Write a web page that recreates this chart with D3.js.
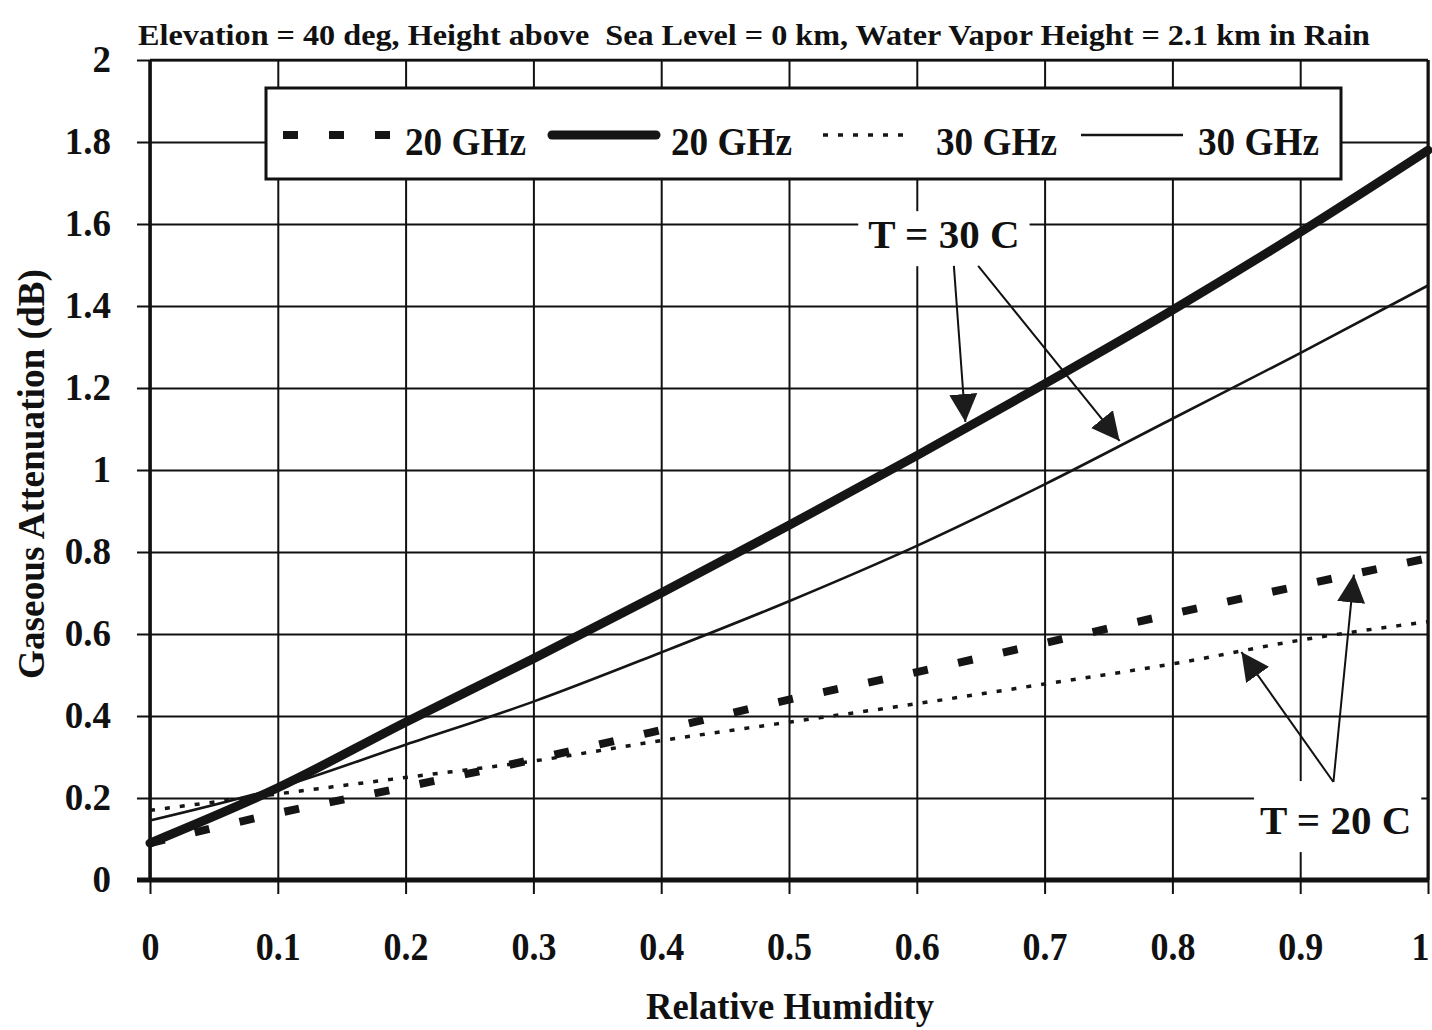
<!DOCTYPE html>
<html>
<head>
<meta charset="utf-8">
<script src="https://cdn.jsdelivr.net/npm/d3@7"></script>
<style>
  html, body { margin: 0; padding: 0; background: #fff; }
  text { font-family: "Liberation Serif", "Times New Roman", serif; font-weight: bold; fill: #111; }
</style>
</head>
<body>
<div id="chart"></div>
<script>
// values
const humidity = [0, 0.1, 0.2, 0.3, 0.4, 0.5, 0.6, 0.7, 0.8, 0.9, 1.0];
const att20GHzT30 = [0.09, 0.225, 0.385, 0.54, 0.70, 0.865, 1.035, 1.21, 1.39, 1.58, 1.78];
const att30GHzT30 = [0.145, 0.225, 0.33, 0.435, 0.555, 0.68, 0.815, 0.965, 1.125, 1.285, 1.45];
const att20GHzT20 = [0.09, 0.163, 0.227, 0.294, 0.366, 0.44, 0.507, 0.578, 0.649, 0.718, 0.785];
const att30GHzT20 = [0.17, 0.21, 0.25, 0.29, 0.34, 0.385, 0.43, 0.478, 0.527, 0.585, 0.63];

const xTicks = [0, 0.1, 0.2, 0.3, 0.4, 0.5, 0.6, 0.7, 0.8, 0.9, 1];
const xTickLabels = ['0', '0.1', '0.2', '0.3', '0.4', '0.5', '0.6', '0.7', '0.8', '0.9', '1'];
const yTicks = [0, 0.2, 0.4, 0.6, 0.8, 1, 1.2, 1.4, 1.6, 1.8, 2];
const yTickLabels = ['0', '0.2', '0.4', '0.6', '0.8', '1', '1.2', '1.4', '1.6', '1.8', '2'];

const legendLabels = ['20 GHz', '20 GHz', '30 GHz', '30 GHz'];
const title = 'Elevation = 40 deg, Height above  Sea Level = 0 km, Water Vapor Height = 2.1 km in Rain';

// annotation anchors, in data units
const note30 = { text: 'T = 30 C', u: 0.562, v: 1.541 };
const arrows30 = [[[0.629, 1.498], [0.638, 1.117]], [[0.648, 1.498], [0.7587, 1.071]]];
const note20 = { text: 'T = 20 C', u: 0.8685, v: 0.112 };
const arrows20 = [[[0.926, 0.239], [0.854, 0.556]], [[0.926, 0.239], [0.942, 0.745]]];

const width = 1432, height = 1030;
const margin = { top: 60, right: 4, bottom: 150, left: 150 };
const x0 = margin.left, x1 = width - margin.right;
const yTop = margin.top, yBot = height - margin.bottom;

const svg = d3.select('#chart').append('svg')
  .attr('width', width).attr('height', height);
svg.append('rect').attr('width', width).attr('height', height).attr('fill', '#fff');

const x = d3.scaleLinear().domain([0, 1]).range([x0, x1]);
const y = d3.scaleLinear().domain([0, 2]).range([yBot, yTop]);

// gridlines + tick labels
const yAxis = d3.axisLeft(y)
  .tickValues(yTicks)
  .tickFormat((d, i) => yTickLabels[i])
  .tickSizeInner(-(x1 - x0 + 13))
  .tickSizeOuter(0)
  .tickPadding(26);

const gy = svg.append('g').attr('transform', `translate(${x0 - 13},0)`).call(yAxis);
gy.select('.domain').remove();
gy.selectAll('line').attr('stroke', '#111').attr('stroke-width', 2);
gy.selectAll('text').attr('font-size', 37).attr('fill', '#111');

const xAxis = d3.axisBottom(x)
  .tickValues(xTicks)
  .tickFormat((d, i) => xTickLabels[i])
  .tickSizeInner(-(yBot + 14 - yTop))
  .tickSizeOuter(0)
  .tickPadding(38);

const gx = svg.append('g').attr('transform', `translate(0,${yBot + 14})`).call(xAxis);
gx.select('.domain').remove();
gx.selectAll('line').attr('stroke', '#111').attr('stroke-width', 2);
gx.selectAll('text')
  .attr('font-size', 40)
  .attr('fill', '#111')
  .attr('transform', (d, i) => (i === xTicks.length - 1 ? 'translate(-8,0) ' : '') + 'scale(0.9,1)');

// plot frame
const frame = svg.append('g').attr('stroke', '#111');
frame.append('line').attr('x1', x0).attr('x2', x1).attr('y1', yTop).attr('y2', yTop).attr('stroke-width', 2.5);
frame.append('line').attr('x1', x0).attr('x2', x0).attr('y1', yTop).attr('y2', yBot).attr('stroke-width', 3.5);
frame.append('line').attr('x1', x1).attr('x2', x1).attr('y1', yTop).attr('y2', yBot).attr('stroke-width', 3);
frame.append('line').attr('x1', x0 - 13).attr('x2', x1).attr('y1', yBot).attr('y2', yBot).attr('stroke-width', 5);

// series
const series = [
  { values: att20GHzT20, width: 8, dash: '15,31', cap: 'butt' },
  { values: att20GHzT30, width: 9, dash: null, cap: 'round' },
  { values: att30GHzT20, width: 3.5, dash: '5,10', cap: 'butt' },
  { values: att30GHzT30, width: 2.6, dash: null, cap: 'butt' }
];

const line = d3.line()
  .x((d, i) => x(humidity[i]))
  .y(d => y(d))
  .curve(d3.curveMonotoneX);

svg.append('g').selectAll('path')
  .data(series)
  .enter()
  .append('path')
  .attr('d', s => line(s.values))
  .attr('fill', 'none')
  .attr('stroke', '#151515')
  .attr('stroke-width', s => s.width)
  .attr('stroke-dasharray', s => s.dash)
  .attr('stroke-linecap', s => s.cap);

// legend
const legend = svg.append('g');
legend.append('rect')
  .attr('x', 266).attr('y', 88).attr('width', 1075).attr('height', 91)
  .attr('fill', '#fff').attr('stroke', '#111').attr('stroke-width', 3);

const legendSlots = [
  { sx1: 283, sx2: 392, tx: 405 },
  { sx1: 552, sx2: 656, tx: 671 },
  { sx1: 823, sx2: 913, tx: 936 },
  { sx1: 1081, sx2: 1183, tx: 1198 }
];

legendSlots.forEach((slot, i) => {
  const s = series[i];
  legend.append('line')
    .attr('x1', slot.sx1).attr('x2', slot.sx2)
    .attr('y1', 135).attr('y2', 135)
    .attr('stroke', '#151515')
    .attr('stroke-width', s.width)
    .attr('stroke-dasharray', s.dash)
    .attr('stroke-linecap', s.cap);
  legend.append('text')
    .attr('x', slot.tx).attr('y', 155)
    .attr('font-size', 40)
    .attr('textLength', 121)
    .attr('lengthAdjust', 'spacingAndGlyphs')
    .text(legendLabels[i]);
});

// annotations
svg.append('defs').append('marker')
  .attr('id', 'head')
  .attr('markerUnits', 'userSpaceOnUse')
  .attr('viewBox', '0 -15 30 30')
  .attr('refX', 28).attr('refY', 0)
  .attr('markerWidth', 30).attr('markerHeight', 30)
  .attr('orient', 'auto')
  .append('path')
  .attr('d', 'M0,-14L28,0L0,14Z')
  .attr('fill', '#1c1c1c');

function note(n, pad) {
  const g = svg.append('g');
  const bg = g.append('rect').attr('fill', '#fff');
  const t = g.append('text')
    .attr('x', x(n.u)).attr('y', y(n.v))
    .attr('font-size', 41)
    .text(n.text);
  const b = t.node().getBBox();
  bg.attr('x', b.x - pad[3]).attr('y', b.y - pad[0])
    .attr('width', b.width + pad[1] + pad[3])
    .attr('height', b.height + pad[0] + pad[2]);
}

function arrows(list) {
  svg.append('g').selectAll('line')
    .data(list)
    .enter()
    .append('line')
    .attr('x1', d => x(d[0][0])).attr('y1', d => y(d[0][1]))
    .attr('x2', d => x(d[1][0])).attr('y2', d => y(d[1][1]))
    .attr('stroke', '#111')
    .attr('stroke-width', 2)
    .attr('marker-end', 'url(#head)');
}

note(note30, [0, 10, 9, 10]);
arrows(arrows30);
note(note20, [16, 10, 9, 6]);
arrows(arrows20);

// titles
svg.append('text')
  .attr('x', 138).attr('y', 45)
  .attr('font-size', 29)
  .attr('textLength', 1232)
  .attr('lengthAdjust', 'spacingAndGlyphs')
  .style('white-space', 'pre')
  .text(title);

svg.append('text')
  .attr('transform', 'translate(44,474) rotate(-90)')
  .attr('text-anchor', 'middle')
  .attr('font-size', 38)
  .attr('textLength', 410)
  .attr('lengthAdjust', 'spacingAndGlyphs')
  .text('Gaseous Attenuation (dB)');

svg.append('text')
  .attr('x', 790).attr('y', 1019)
  .attr('text-anchor', 'middle')
  .attr('font-size', 38)
  .attr('textLength', 288)
  .attr('lengthAdjust', 'spacingAndGlyphs')
  .text('Relative Humidity');
</script>
</body>
</html>
